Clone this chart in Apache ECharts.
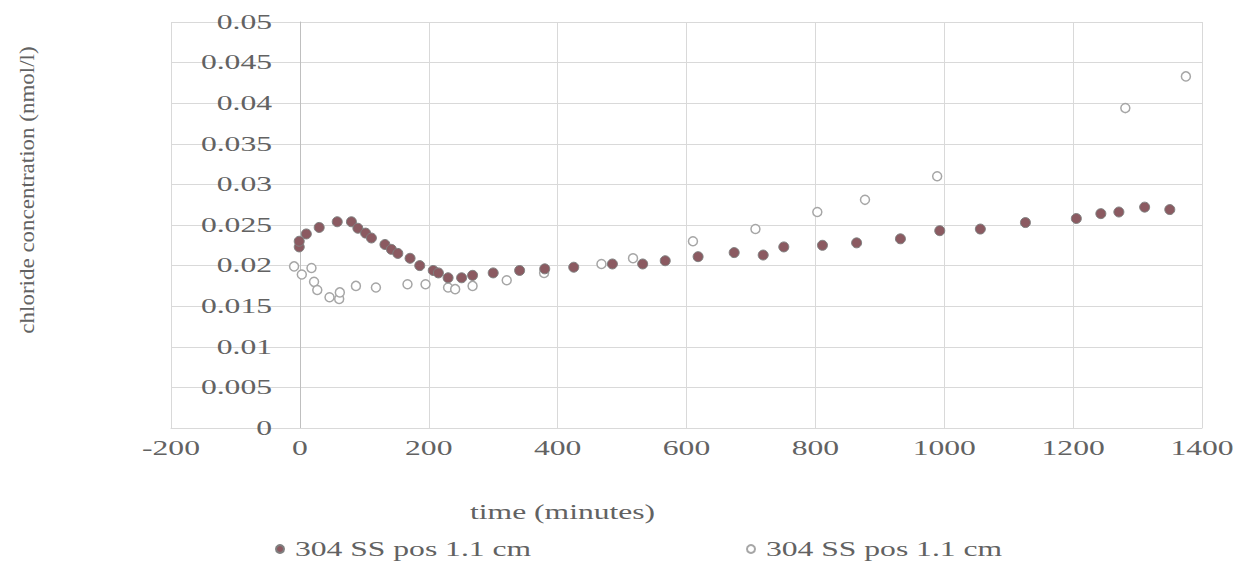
<!DOCTYPE html>
<html>
<head>
<meta charset="utf-8">
<script src="https://cdn.jsdelivr.net/npm/echarts@6/dist/echarts.min.js"></script>
<style>
  html, body { margin: 0; padding: 0; background: #fff; }
  #chart { width: 1238px; height: 566px; }
</style>
</head>
<body>
<div id="chart"></div>
<script>
// values
const legendLabel = "304 SS pos 1.1 cm";
const xTitle = "time (minutes)";
const yTitle = "chloride concentration (nmol/l)";
const filledTime = [-1, -1, 10, 30, 58, 80, 90, 102, 111, 132, 142, 152, 171, 186, 207, 215, 230, 251, 268, 300,
  341, 380, 425, 485, 532, 567, 618, 674, 719, 751, 811, 864, 932, 993, 1056, 1126, 1205, 1243, 1271, 1311, 1350];
const filledConc = [0.0223, 0.0230, 0.0239, 0.0247, 0.0254, 0.0254, 0.0246, 0.0240, 0.0234, 0.0226, 0.0220, 0.0215,
  0.0209, 0.0200, 0.0194, 0.0191, 0.0185, 0.0185, 0.0188, 0.0191, 0.0194, 0.0196, 0.0198, 0.0202, 0.0202, 0.0206,
  0.0211, 0.0216, 0.0213, 0.0223, 0.0225, 0.0228, 0.0233, 0.0243, 0.0245, 0.0253, 0.0258, 0.0264, 0.0266, 0.0272, 0.0269];
const openTime = [-9, 3, 18, 22, 27, 46, 61, 62, 87, 118, 167, 195, 230, 241, 268, 321, 379, 468, 517, 610, 707,
  803, 877, 989, 1281, 1375];
const openConc = [0.0199, 0.0189, 0.0197, 0.0180, 0.0170, 0.0161, 0.0159, 0.0167, 0.0175, 0.0173, 0.0177, 0.0177,
  0.0173, 0.0171, 0.0175, 0.0182, 0.0191, 0.0202, 0.0209, 0.0230, 0.0245, 0.0266, 0.0281, 0.0310, 0.0394, 0.0433];

const font = "Liberation Serif";
const textGrey = "#626262";

const chart = echarts.init(document.getElementById("chart"), null, { renderer: "svg" });

// the original picture has its text stretched sideways, so widen each svg text around its anchor
function stretchText() {
  document.querySelectorAll("#chart svg text").forEach((el) => {
    if (el.dataset.wide) return;
    el.style.fontFamily = "'Liberation Serif', serif";
    const txt = el.textContent;
    const anchor = el.getAttribute("text-anchor") || "start";
    const b = el.getBBox();
    let cx = b.x;
    if (anchor === "end") cx = b.x + b.width;
    else if (anchor === "middle") cx = b.x + b.width / 2;
    const s = txt === yTitle ? 1.15 : 1.58;
    const t = el.getAttribute("transform") || "";
    el.setAttribute("transform", t + " translate(" + cx + " 0) scale(" + s + " 1) translate(" + (-cx) + " 0)");
    el.dataset.wide = "1";
  });
}
chart.on("finished", stretchText);

const option = {
  animation: false,
  textStyle: { fontFamily: font },
  grid: { left: 171, right: 36, top: 22, bottom: 138 },
  legend: [
    {
      data: ["filled"],
      left: 270, top: 534,
      icon: "circle", itemWidth: 20, itemHeight: 8,
      formatter: () => legendLabel,
      textStyle: { fontFamily: font, fontSize: 20, color: textGrey },
    },
    {
      data: ["open"],
      left: 741, top: 534,
      icon: "circle", itemWidth: 20, itemHeight: 8,
      formatter: () => legendLabel,
      textStyle: { fontFamily: font, fontSize: 20, color: textGrey },
    },
  ],
  xAxis: {
    type: "value",
    min: -200, max: 1400, interval: 200,
    axisLine: { lineStyle: { color: "#d9d9d9" } },
    axisTick: { show: false },
    axisLabel: { color: textGrey, fontSize: 20, margin: 10, fontFamily: font, formatter: (v) => String(v) },
    splitLine: { show: true, lineStyle: { color: "#d9d9d9" } },
  },
  yAxis: {
    type: "value",
    min: 0, max: 0.05, interval: 0.005,
    axisLine: { show: true, onZero: true, lineStyle: { color: "#bfbfbf" } },
    axisTick: { show: false },
    // labels sit next to the axis at x = 0
    axisLabel: { color: textGrey, fontSize: 20, margin: -101, fontFamily: font,
      formatter: (v) => String(+v.toFixed(3)) },
    splitLine: { show: true, lineStyle: { color: "#d9d9d9" } },
  },
  graphic: [
    {
      type: "text", left: 470, top: 502,
      style: { text: xTitle, font: "20px 'Liberation Serif'", fill: textGrey },
    },
    {
      type: "text", x: 28, y: 190, rotation: Math.PI / 2,
      style: { text: yTitle, font: "20px 'Liberation Serif'", fill: textGrey,
        align: "center", verticalAlign: "middle" },
    },
  ],
  series: [
    {
      name: "open",
      type: "scatter",
      symbol: "circle",
      symbolSize: 9,
      z: 2,
      itemStyle: { color: "#ffffff", borderColor: "#a6a6a6", borderWidth: 1.5, opacity: 1 },
      data: openTime.map((t, i) => [t, openConc[i]]),
    },
    {
      name: "filled",
      type: "scatter",
      symbol: "circle",
      symbolSize: 10,
      z: 3,
      itemStyle: { color: "#8b5a61", borderColor: "#7f7f7f", borderWidth: 1, opacity: 1 },
      data: filledTime.map((t, i) => [t, filledConc[i]]),
    },
  ],
};
chart.setOption(option);
stretchText();
</script>
</body>
</html>
